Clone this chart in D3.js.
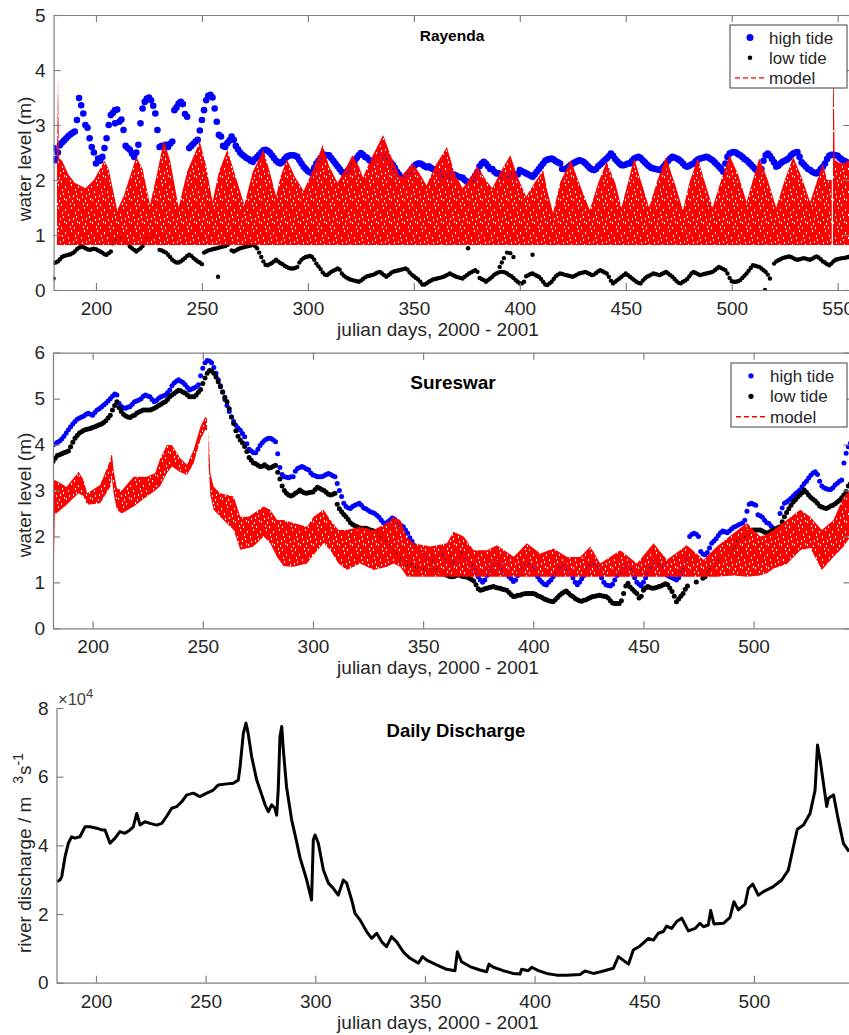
<!DOCTYPE html>
<html><head><meta charset="utf-8">
<script src="https://cdn.jsdelivr.net/npm/d3@7"></script>
<style>
body{margin:0;background:#fff;}
svg{display:block;font-family:"Liberation Sans",Arial,Helvetica,sans-serif;}
</style></head><body>
<svg id="c" width="849" height="1035"></svg>
<script>
// ---------------- DATA ----------------
// Rayenda: daily observations from day 180
const rayStartDay = 180;
const rayHigh = [
2.58,2.38,2.5,2.63,2.68,2.72,2.76,2.8,2.83,2.86,
2.88,3.09,3.49,3.36,3.21,3.0,2.95,2.76,2.6,2.5,
2.3,2.39,2.35,2.42,2.58,2.76,3.0,3.18,3.22,3.27,
3.28,3.06,3.1,2.91,2.62,2.58,2.55,2.48,2.42,2.5,
2.64,3.03,3.3,3.42,3.48,3.5,3.45,3.35,3.21,2.91,
2.6,2.62,2.6,2.64,2.6,2.66,2.7,3.27,3.32,3.39,
3.42,3.38,3.2,3.15,2.58,2.62,2.66,2.7,2.73,2.9,
3.09,3.27,3.45,3.53,3.55,3.5,3.3,3.06,2.82,2.79,
2.62,2.6,2.67,2.72,2.79,2.73,2.62,2.56,2.5,2.46,
2.43,2.4,2.38,2.35,2.33,2.38,2.42,2.46,2.5,2.54,
2.55,2.53,2.5,2.45,2.4,2.35,2.32,2.3,2.33,2.38,
2.42,2.44,2.45,2.45,2.44,2.42,2.36,2.3,2.24,2.2,
2.16,2.14,2.12,2.22,2.3,2.35,2.4,2.44,2.46,2.45,
2.45,2.4,2.35,2.3,2.25,2.2,2.15,2.12,2.14,2.18,
2.2,2.26,2.33,2.4,2.45,2.49,2.46,2.42,2.4,2.36,
2.33,2.32,2.35,2.4,2.43,2.45,2.44,2.4,2.36,2.32,
2.28,2.22,2.15,2.1,2.05,2.02,2.05,2.1,2.15,2.2,
2.25,2.28,2.3,2.3,2.28,2.25,2.23,2.25,2.22,2.2,
2.18,2.16,2.12,2.1,2.08,2.06,2.06,2.08,2.1,2.1,
2.08,2.06,2.05,2.04,2.0,1.97,1.95,1.97,2.02,2.08,
2.15,2.25,2.3,2.33,2.3,2.25,2.2,2.2,2.15,2.12,
2.12,2.1,2.05,2.03,2.0,2.02,2.05,2.08,2.1,2.1,
2.18,2.16,2.14,2.12,2.1,2.08,2.06,2.1,2.15,2.2,
2.25,2.3,2.35,2.37,2.38,2.39,2.37,2.34,2.32,2.3,
2.2,2.2,2.21,2.24,2.27,2.3,2.32,2.34,2.36,2.35,
2.33,2.3,2.26,2.22,2.19,2.18,2.2,2.25,2.28,2.32,
2.36,2.39,2.43,2.48,2.44,2.38,2.34,2.3,2.27,2.27,
2.28,2.3,2.3,2.35,2.39,2.41,2.42,2.4,2.36,2.32,
2.28,2.25,2.22,2.21,2.2,2.19,2.18,2.21,2.25,2.3,
2.35,2.39,2.42,2.41,2.39,2.37,2.34,2.3,2.26,2.24,
2.26,2.28,2.3,2.34,2.37,2.39,2.4,2.41,2.42,2.41,
2.38,2.36,2.32,2.28,2.24,2.2,2.15,2.3,2.42,2.48,
2.5,2.51,2.5,2.47,2.45,2.42,2.38,2.36,2.32,2.28,
2.24,2.2,2.17,2.15,2.2,2.35,2.45,2.48,2.44,2.38,
2.32,2.24,2.26,2.3,2.33,2.35,2.37,2.4,2.45,2.48,
2.5,2.51,2.42,2.32,2.28,2.24,2.2,2.18,2.15,2.13,
2.12,2.15,2.2,2.24,2.3,2.38,2.44,2.46,2.46,2.45,
2.44,2.4,2.37,2.35,2.33,2.3,2.28];
const rayHighExtra = [[180.6,2.36],[209,3.03]];
const rayLow = [
0.49,0.5,0.52,0.56,0.6,0.62,0.63,0.64,0.65,0.67,
0.7,0.74,0.77,0.79,0.78,0.76,0.74,0.73,0.74,0.75,
0.74,0.72,0.7,0.68,0.65,0.64,0.67,0.7,0.85,0.9,
0.93,0.95,0.96,0.95,0.9,0.85,0.79,0.76,0.73,0.7,
0.73,0.76,0.8,0.9,0.95,0.97,1.0,1.02,0.98,0.9,
0.73,0.72,0.7,0.68,0.64,0.6,0.55,0.52,0.5,0.5,
0.52,0.55,0.58,0.62,0.64,0.62,0.58,0.55,0.52,0.5,
0.47,0.68,0.7,0.72,0.73,0.74,0.75,0.76,0.77,0.78,
0.79,0.8,0.82,0.85,0.72,0.7,0.72,0.74,0.76,0.77,
0.78,0.79,0.8,0.81,0.82,0.8,0.76,0.68,0.6,0.52,
0.46,0.45,0.47,0.49,0.52,0.55,0.52,0.49,0.47,0.44,
0.42,0.4,0.39,0.39,0.4,0.42,0.5,0.55,0.58,0.6,
0.61,0.62,0.6,0.55,0.48,0.43,0.38,0.32,0.28,0.27,
0.3,0.33,0.35,0.37,0.39,0.37,0.3,0.26,0.23,0.21,
0.19,0.18,0.17,0.16,0.15,0.17,0.2,0.23,0.25,0.26,
0.27,0.28,0.3,0.32,0.33,0.3,0.27,0.24,0.27,0.3,
0.33,0.34,0.35,0.36,0.37,0.38,0.39,0.37,0.32,0.28,
0.25,0.22,0.19,0.15,0.1,0.1,0.12,0.15,0.17,0.19,
0.2,0.21,0.22,0.23,0.24,0.26,0.28,0.3,0.28,0.26,
0.24,0.23,0.22,0.21,0.24,0.27,0.3,0.32,0.34,0.36,
0.33,0.22,0.2,0.18,0.15,0.18,0.21,0.24,0.28,0.3,
0.32,0.33,0.33,0.32,0.3,0.27,0.25,0.22,0.18,0.15,
0.12,0.12,0.15,0.25,0.27,0.29,0.3,0.28,0.26,0.24,
0.2,0.15,0.1,0.09,0.12,0.15,0.2,0.25,0.28,0.3,
0.29,0.28,0.27,0.26,0.25,0.24,0.26,0.28,0.3,0.31,
0.32,0.33,0.31,0.29,0.27,0.28,0.31,0.34,0.36,0.34,
0.32,0.3,0.24,0.17,0.12,0.15,0.18,0.21,0.24,0.27,
0.3,0.27,0.24,0.21,0.18,0.15,0.13,0.12,0.17,0.21,
0.24,0.26,0.28,0.3,0.29,0.28,0.27,0.29,0.31,0.33,
0.3,0.27,0.24,0.2,0.16,0.13,0.12,0.15,0.17,0.2,
0.25,0.3,0.33,0.31,0.29,0.27,0.28,0.29,0.3,0.31,
0.32,0.33,0.36,0.39,0.42,0.4,0.38,0.36,0.3,0.22,
0.16,0.15,0.15,0.16,0.18,0.22,0.26,0.3,0.35,0.4,
0.45,0.44,0.43,0.42,0.39,0.36,0.33,0.28,0.21,null,
0.48,0.52,0.54,0.56,0.58,0.59,0.6,0.61,0.6,0.58,
0.56,0.55,0.56,0.57,0.58,0.57,0.56,0.55,0.57,0.59,
0.61,0.59,0.56,0.52,0.5,0.47,0.45,0.48,0.52,0.55,
0.56,0.57,0.58,0.58,0.59,0.6,0.61];
const rayLowExtra = [[180,0.21],[257.6,0.24],[375.6,0.76],[390.5,0.42],[391.5,0.5],[392.5,0.58],[394,0.68],[395.5,0.67],[397,0.6],[406,0.64],[515.7,0.0]];
// Rayenda model: upper envelope at read-off days, bottom is flat
const rayModelDays = [181.6,182.1,182.5,184,187,190,195,199,204,206,210,213,219,222,225.5,229,232,235,239,243,249,252,255,258,262,266,270,274,279,282,285,287,290,294,298,302,307,310,314,317,321,324,326,330,335.5,339,343.5,346,349.6,353,356,360,365.6,369,373,376,380,384,387,391,395.5,399,403,407,411,413,415.7,419,424,428,433,437,441,445,448,451,454,457,461,465,469,473,477,480,484,487,491,495,499,503,507,510,513,517,521,525,529,533,537,540,543,545,547.2,547.5,547.8,548.1,548.6,552,556];
const rayModelTop = [2.38,3.85,2.4,2.35,2.1,1.95,1.85,2.0,2.35,2.2,1.45,1.7,2.42,2.2,1.55,2.15,2.72,2.35,1.5,2.15,2.7,2.25,1.6,2.15,2.55,2.05,1.55,2.15,2.55,2.15,1.7,2.05,2.38,2.05,1.8,2.15,2.64,2.25,1.95,2.15,2.45,2.25,2.05,2.4,2.82,2.45,2.05,2.15,2.3,2.1,1.9,2.25,2.6,2.15,1.85,2.0,2.25,2.0,1.85,2.15,2.45,2.05,1.7,1.95,2.18,1.8,1.4,1.95,2.36,1.95,1.45,1.95,2.33,1.95,1.5,1.95,2.4,2.0,1.5,2.0,2.42,1.95,1.45,1.95,2.4,2.0,1.5,2.0,2.45,2.1,1.6,2.0,2.4,2.0,1.5,2.0,2.42,2.05,1.6,1.95,2.3,2.0,2.0,null,3.85,3.85,2.36,2.3,2.36];
const rayModelFloor = 0.82;

// Sureswar: daily observations from day 182
const surStartDay = 182;
const surHigh = [
3.99,4.02,4.05,4.08,4.12,4.18,4.25,4.32,4.39,4.45,
4.5,4.55,4.58,4.6,4.62,4.66,4.68,4.66,4.64,4.7,
4.75,4.78,4.82,4.86,4.9,4.95,5.0,5.05,5.1,5.08,
4.9,4.83,4.8,4.79,4.81,4.83,4.88,4.93,4.95,4.97,
5.0,5.05,5.08,5.06,5.04,4.98,4.93,4.96,5.01,5.04,
5.06,5.08,5.13,5.19,5.28,5.34,5.38,5.41,5.38,5.35,
5.3,5.24,5.19,5.21,5.23,5.26,5.3,5.5,5.66,5.78,
5.83,5.82,5.78,5.68,5.55,5.41,5.28,5.15,4.98,4.85,
4.72,4.6,4.5,4.42,4.36,4.31,4.24,4.17,4.02,3.9,
3.86,3.82,3.82,3.9,3.98,4.04,4.09,4.12,4.14,4.13,
4.1,4.06,3.8,3.5,3.35,3.3,3.29,3.28,3.3,3.3,
3.42,3.48,3.5,3.52,3.5,3.47,3.45,3.38,3.34,3.32,
3.3,3.3,3.3,3.32,3.35,3.37,3.35,3.32,3.3,3.15,
3.0,2.87,2.72,2.65,2.62,2.61,2.65,2.68,2.7,2.72,
2.68,2.62,2.6,2.57,2.54,2.52,2.5,2.46,2.42,2.35,
2.3,2.28,2.32,2.36,2.4,2.38,2.31,2.28,2.24,2.21,
2.14,2.07,1.97,1.89,1.8,1.72,1.65,1.6,1.58,1.55,
1.52,1.5,1.48,1.5,1.55,1.6,1.62,1.6,1.55,1.5,
1.45,1.4,1.42,1.48,1.55,1.6,1.62,1.58,1.5,1.42,
1.35,1.3,1.22,1.12,1.05,1.0,1.05,1.15,1.25,1.35,
1.4,1.45,1.42,1.38,1.3,1.25,1.18,1.12,1.08,1.02,
1.05,1.15,1.25,1.32,1.38,1.4,1.38,1.32,1.28,1.2,
1.12,1.05,1.0,0.96,0.94,1.0,1.05,1.12,1.2,1.28,
1.34,1.38,1.4,1.35,1.28,1.2,1.1,1.0,0.95,1.0,
1.08,1.15,1.25,1.32,1.36,1.38,1.35,1.3,1.2,1.1,
1.0,0.95,0.93,0.92,0.96,1.05,1.15,1.22,1.25,1.28,
1.3,1.32,1.34,1.25,1.1,1.0,0.96,0.92,1.0,1.1,
1.2,1.3,1.42,1.45,1.42,1.38,1.32,1.25,1.2,1.15,
1.12,1.1,1.08,1.05,1.1,1.18,1.26,1.32,1.5,2.0,
2.05,2.07,2.05,2.0,1.67,1.62,1.6,1.65,1.75,1.85,
1.9,1.95,2.02,2.08,2.12,2.1,2.08,2.12,2.16,2.2,
2.22,2.25,2.27,2.29,2.35,2.55,2.7,2.72,2.7,2.68,
2.47,2.45,2.42,2.35,2.3,2.28,2.22,2.18,2.12,2.1,
2.5,2.62,2.72,2.75,2.79,2.83,2.88,2.93,2.97,3.01,
3.08,3.15,3.2,3.27,3.33,3.38,3.41,3.35,3.2,3.1,
3.06,3.04,3.02,3.02,3.06,3.12,3.16,3.2,3.23,3.6,
3.81,3.95,4.03];
const surLow = [
3.63,3.7,3.76,3.78,3.8,3.82,3.84,3.86,3.95,4.05,
4.14,4.2,4.25,4.28,4.31,4.33,4.34,4.35,4.37,4.39,
4.41,4.43,4.45,4.48,4.52,4.58,4.64,4.75,4.85,4.93,
4.8,4.72,4.66,4.62,4.6,4.59,4.62,4.64,4.68,4.71,
4.73,4.75,4.75,4.75,4.75,4.77,4.79,4.82,4.85,4.88,
4.91,4.93,4.98,5.04,5.08,5.11,5.15,5.18,5.17,5.14,
5.12,5.08,5.04,5.04,5.04,5.08,5.14,5.2,5.33,5.45,
5.55,5.61,5.6,5.55,5.47,5.37,5.26,5.14,5.03,4.93,
4.78,4.6,4.46,4.3,4.18,4.1,4.04,3.96,3.85,3.72,
3.66,3.6,3.58,3.55,3.52,3.53,3.56,3.52,3.49,3.5,
3.53,3.55,3.4,3.25,3.1,3.0,2.94,2.9,2.88,2.9,
2.94,2.97,3.01,2.98,2.95,2.94,2.95,2.96,2.97,3.02,
3.07,3.05,3.02,3.0,2.96,2.92,2.9,2.92,2.94,2.7,
2.6,2.54,2.48,2.43,2.37,2.3,2.26,2.23,2.21,2.19,
2.18,2.18,2.18,2.16,2.14,2.13,2.11,2.1,2.03,1.97,
1.92,1.86,1.81,1.76,1.72,1.67,1.62,1.57,1.52,1.48,
1.44,1.41,1.4,1.38,1.36,1.34,1.32,1.3,1.29,1.28,
1.27,1.27,1.27,1.27,1.27,1.27,1.25,1.2,1.17,1.15,
1.13,1.12,1.13,1.15,1.16,1.15,1.13,1.12,1.11,1.09,
1.06,1.03,0.95,0.86,0.83,0.84,0.86,0.87,0.89,0.9,
0.91,0.89,0.88,0.87,0.85,0.84,0.83,0.78,0.73,0.69,
0.7,0.72,0.72,0.74,0.75,0.76,0.76,0.76,0.76,0.74,
0.71,0.69,0.67,0.64,0.62,0.6,0.59,0.58,0.62,0.67,
0.72,0.76,0.79,0.81,0.77,0.72,0.69,0.65,0.62,0.6,
0.59,0.61,0.62,0.65,0.67,0.69,0.7,0.71,0.72,0.71,
0.7,0.69,0.66,0.6,0.55,0.54,0.54,0.54,0.6,0.76,
0.92,0.98,0.9,0.85,0.8,0.76,0.66,0.7,0.83,0.88,
0.91,0.89,0.87,0.88,0.89,0.91,0.92,0.95,0.97,0.95,
0.88,0.8,0.7,0.58,0.64,0.7,0.76,0.85,0.92,null,
null,null,1.01,null,null,1.09,1.12,1.18,1.26,1.32,
1.37,1.42,1.47,1.5,1.55,1.6,1.65,1.7,1.75,1.8,
1.85,1.89,1.92,1.97,2.02,2.07,2.1,2.12,2.14,2.14,
2.14,2.14,2.12,2.09,2.07,2.09,2.12,2.14,2.16,2.19,
2.21,2.32,2.43,2.52,2.6,2.68,2.75,2.8,2.86,2.9,
2.95,3.01,2.96,2.9,2.85,2.81,2.77,2.72,2.66,2.64,
2.62,2.61,2.63,2.66,2.68,2.71,2.75,2.79,2.84,2.9,
2.98,3.1,3.15];
const surModelDays = [182.3,182.8,188.2,193.6,195.9,197.5,203.4,208,208.7,209.5,211,213.2,218.6,224.6,228.4,230.7,233.7,236,239.8,242.8,245.8,248.9,251.1,251.9,252.2,252.6,253.4,254.9,257.9,264,267,270.8,273,277.6,280.6,283.7,286.7,291.2,297.3,300.3,304.8,307.9,311.6,315.4,321.5,327.5,333.6,336.6,339.6,342.7,345.7,353.2,360.8,363.8,368.4,372.9,379,383.5,391.1,397.1,403.2,409.2,415.3,421.3,425.9,430.4,439.5,447.1,454.6,460.7,469.7,477.3,483.4,490.9,497,503,506.1,509.1,515.1,521.2,525.7,531,536.3,540.9,544];
const surModelTop = [3.2,3.23,3.08,3.41,3.23,2.94,3.12,3.66,3.84,3.44,3.05,3.0,3.3,3.3,3.38,3.7,3.99,3.99,3.7,3.56,3.88,4.39,4.6,4.57,null,4.3,3.38,3.08,2.94,2.87,2.43,2.43,2.5,2.65,2.58,2.36,2.36,2.29,2.21,2.43,2.58,2.36,2.14,2.14,2.21,2.14,2.29,2.43,2.36,2.0,1.85,1.78,1.85,2.1,2.0,1.7,1.7,1.81,1.56,1.85,1.63,1.74,1.55,1.55,1.78,1.41,1.7,1.41,1.85,1.49,1.81,1.49,1.78,2.07,2.29,2.0,2.05,2.14,2.36,2.58,2.43,2.14,2.36,2.87,3.01];
const surModelBottom = [1.09,2.47,2.69,2.94,2.87,2.69,2.72,3.08,3.3,2.94,2.58,2.5,2.65,2.87,3.0,3.1,3.38,3.52,3.4,3.34,3.59,4.1,4.32,4.3,null,3.6,2.9,2.58,2.43,2.14,1.71,1.75,1.78,2.0,1.85,1.55,1.35,1.34,1.41,1.6,1.85,1.7,1.41,1.27,1.41,1.27,1.34,1.41,1.34,1.12,1.12,1.12,1.12,1.12,1.12,1.12,1.12,1.12,1.12,1.12,1.12,1.12,1.12,1.12,1.12,1.12,1.12,1.12,1.12,1.12,1.12,1.12,1.12,1.15,1.12,1.15,1.2,1.3,1.4,1.7,1.75,1.27,1.56,1.78,2.0];

// Daily discharge, in units of 10^4 m^3/s
const disDays = [182.1,183.6,184.4,185.9,187.4,188.9,190.4,192.7,195,197.3,200.3,202.6,204.1,206.4,208.7,210.9,213.2,215.5,217,218.6,220.1,222.3,224.6,227.7,230,232.2,234.5,236.8,239.1,241.4,244.4,247.4,250.5,253.5,255.8,259.6,262.6,264.9,265.7,267.2,268.4,269.4,271,273.3,275.6,277.1,278.6,280.1,281.6,282.4,283.1,283.9,284.7,285.4,286.9,289.2,291.5,293,296.1,298.3,299.1,299.9,301.4,303.7,306,308.2,310.5,312.8,314.3,316.6,318.1,320.4,323.4,325.7,328,330.3,332.5,334.8,337.1,340.1,343.2,347,348.9,350.8,355.3,359.9,363.7,364.8,366.7,370.5,375.1,378.1,379.2,381.2,385.7,390.3,393.3,394.1,397.1,398.7,401.7,405.5,410.1,414.6,420.7,423,426.8,431.4,435.9,438.2,442.8,445,448.1,451.9,454.2,456.4,458.7,460.2,462.5,464.8,467.1,470.1,473.2,475.4,477,479.2,480.3,481.8,486.1,489.1,490.9,492.9,496,497.5,499.5,502,504.3,508.9,512.7,515.7,518,519.8,522.6,525.6,527.9,529,530.2,533.2,534,536.3,538.5,540.8,543.4];
const dischargeE4 = [2.94,2.99,3.09,3.67,4.06,4.25,4.21,4.25,4.54,4.54,4.5,4.45,4.45,4.06,4.21,4.4,4.35,4.45,4.54,4.93,4.59,4.69,4.64,4.59,4.64,4.84,5.08,5.13,5.27,5.47,5.52,5.42,5.52,5.61,5.76,5.79,5.81,5.9,6.29,7.26,7.56,7.26,6.58,5.9,5.47,5.18,4.98,5.18,5.08,4.88,5.61,7.17,7.46,6.8,5.7,4.75,4.1,3.65,2.99,2.41,4.16,4.3,4.06,3.28,2.9,2.75,2.55,2.99,2.9,2.41,2.02,1.83,1.49,1.29,1.44,1.19,1.05,1.34,1.19,0.9,0.71,0.57,0.76,0.66,0.52,0.39,0.35,0.9,0.61,0.47,0.37,0.32,0.54,0.45,0.35,0.27,0.25,0.39,0.35,0.45,0.35,0.27,0.22,0.22,0.24,0.34,0.27,0.34,0.42,0.76,0.54,0.95,1.07,1.29,1.24,1.44,1.49,1.65,1.58,1.78,1.88,1.51,1.58,1.73,1.63,1.68,2.1,1.71,1.73,1.9,2.36,2.12,2.29,2.75,2.87,2.55,2.65,2.8,2.99,3.28,3.96,4.47,4.59,4.93,5.61,6.92,6.49,5.13,5.37,5.47,4.74,4.06,3.82];

const xTicks1 = [200,250,300,350,400,450,500,550];
const yTicks1 = [0,1,2,3,4,5];
const xTicks2 = [200,250,300,350,400,450,500];
const yTicks2 = [0,1,2,3,4,5,6];
const xTicks3 = [200,250,300,350,400,450,500];
const yTicks3 = [0,2,4,6,8];
const titles = ["Rayenda","Sureswar","Daily Discharge"];
const xLabel = "julian days, 2000 - 2001";
const legendLabels = ["high tide","low tide","model"];

// ---------------- DRAWING ----------------
const AX = "#808080", TX = "#262626", BLUE = "#0000ff", RED = "#ff0000";
const FS = 19;
const svg = d3.select("#c");
svg.append("rect").attr("width",849).attr("height",1035).attr("fill","#fff");
const defs = svg.append("defs");
// texture of the dashed model trace: red with small scattered gaps
const pat = defs.append("pattern").attr("id","redtex").attr("patternUnits","userSpaceOnUse")
  .attr("width",13).attr("height",23);
pat.append("path").attr("fill",RED).attr("fill-rule","evenodd")
  .attr("d","M0,0H13V23H0Z M0,2h1v2h-1z M6,0h1v2h-1z M10,5h1v2h-1z M3,7h1v2h-1z M8,11h1v2h-1z M12,14h1v2h-1z M1,15h1v2h-1z M5,19h1v2h-1z M9,20h1v2h-1z M11,9h1v2h-1z M4,12h1v2h-1z M7,16h1v2h-1z");

function makePanel(p){
  const x = d3.scaleLinear().domain(p.xDomain).range([p.left,p.right]);
  const y = d3.scaleLinear().domain(p.yDomain).range([p.bottom,p.top]);
  const g = svg.append("g");
  defs.append("clipPath").attr("id","clip"+p.id).append("rect")
    .attr("x",p.left).attr("y",p.top).attr("width",p.right-p.left).attr("height",p.bottom-p.top);
  const plot = g.append("g").attr("clip-path",`url(#clip${p.id})`);
  return {x,y,g,plot,p};
}
function dots(P, pts, r, color){
  P.plot.append("g").selectAll("circle").data(pts.filter(d=>d[1]!=null)).join("circle")
    .attr("cx",d=>P.x(d[0])).attr("cy",d=>P.y(d[1])).attr("r",r).attr("fill",color);
}
function daily(start, vals){ return vals.map((v,i)=>[start+i, v]); }
function drawAxes(P){
  const {x,y,g,p} = P;
  const ax = g.append("g");
  ax.append("g").attr("transform",`translate(0,${p.bottom})`)
    .call(d3.axisBottom(x).tickValues(p.xTicks).tickSizeInner(-7).tickSizeOuter(0).tickPadding(11.5).tickFormat(d3.format("d")));
  ax.append("g").attr("transform",`translate(${p.left},0)`)
    .call(d3.axisLeft(y).tickValues(p.yTicks).tickSizeInner(-7).tickSizeOuter(0).tickPadding(8).tickFormat(d3.format("d")));
  if(p.box){
    ax.append("g").attr("transform",`translate(0,${p.top})`)
      .call(d3.axisTop(x).tickValues(p.xTicks).tickSizeInner(-7).tickSizeOuter(0).tickFormat(""));
    ax.append("g").attr("transform",`translate(${p.right},0)`)
      .call(d3.axisRight(y).tickValues(p.yTicks).tickSizeInner(-7).tickSizeOuter(0).tickFormat(""));
  }
  ax.selectAll("g").attr("font-size",null).attr("font-family",null);
  ax.selectAll(".domain").attr("stroke",AX).attr("stroke-width",1.2);
  ax.selectAll(".tick line").attr("stroke",AX).attr("stroke-width",1.2);
  ax.selectAll(".tick text").attr("fill",TX).attr("font-size",FS);
  g.append("text").attr("x",438).attr("y",p.bottom+46).attr("text-anchor","middle")
    .attr("font-size",FS).attr("fill",TX).text(xLabel);
  g.append("text").attr("x",p.titleX).attr("y",p.titleY).attr("text-anchor","middle")
    .attr("font-size",p.titleSize).attr("font-weight","bold").attr("fill","#000").text(p.title);
}
function legend(P, L){
  const g = P.g.append("g");
  g.append("rect").attr("x",L.x).attr("y",L.y).attr("width",L.w).attr("height",L.h)
    .attr("fill","#fff").attr("stroke","#404040").attr("stroke-width",1);
  const rows = [L.y+L.h*0.2, L.y+L.h*0.52, L.y+L.h*0.84];
  g.append("circle").attr("cx",L.x+20).attr("cy",rows[0]).attr("r",L.rHigh).attr("fill",BLUE);
  g.append("circle").attr("cx",L.x+20).attr("cy",rows[1]).attr("r",L.rLow).attr("fill","#000");
  g.append("line").attr("x1",L.x+5).attr("x2",L.x+35).attr("y1",rows[2]).attr("y2",rows[2])
    .attr("stroke",RED).attr("stroke-width",1.3).attr("stroke-dasharray","5,3");
  legendLabels.forEach((t,i)=>{
    g.append("text").attr("x",L.x+39).attr("y",rows[i]).attr("dy","0.35em")
      .attr("font-size",17).attr("fill",TX).text(t);
  });
}

// Panel 1: Rayenda
const P1 = makePanel({id:1,left:53.6,right:850.4,top:15,bottom:290,xDomain:[180,556],yDomain:[0,5],
  xTicks:xTicks1,yTicks:yTicks1,box:true,title:titles[0],titleX:452,titleY:41,titleSize:15.5});
dots(P1, daily(rayStartDay, rayHigh).concat(rayHighExtra), 3.3, BLUE);
dots(P1, daily(rayStartDay, rayLow).concat(rayLowExtra), 2.2, "#000");
const rayModel = rayModelDays.map((d,i)=>({d, t:rayModelTop[i], b:rayModelFloor}));
P1.plot.append("path").datum(rayModel)
  .attr("d", d3.area().defined(d=>d.t!=null).x(d=>P1.x(d.d)).y0(d=>P1.y(d.b)).y1(d=>P1.y(d.t)))
  .attr("fill","url(#redtex)");
drawAxes(P1);
legend(P1,{x:730,y:25,w:117,h:63,rHigh:3.5,rLow:2.3});
P1.g.append("text").attr("transform","translate(31,159) rotate(-90)").attr("text-anchor","middle")
  .attr("font-size",FS).attr("fill",TX).text("water level (m)");

// Panel 2: Sureswar
const P2 = makePanel({id:2,left:53,right:850.5,top:352.7,bottom:628.3,xDomain:[182,544],yDomain:[0,6],
  xTicks:xTicks2,yTicks:yTicks2,box:true,title:titles[1],titleX:453,titleY:389,titleSize:19});
dots(P2, daily(surStartDay, surHigh), 2.5, BLUE);
dots(P2, daily(surStartDay, surLow), 2.5, "#000");
const surModel = surModelDays.map((d,i)=>({d, t:surModelTop[i], b:surModelBottom[i]}));
P2.plot.append("path").datum(surModel)
  .attr("d", d3.area().defined(d=>d.t!=null).x(d=>P2.x(d.d)).y0(d=>P2.y(d.b)).y1(d=>P2.y(d.t)))
  .attr("fill","url(#redtex)");
drawAxes(P2);
legend(P2,{x:731,y:363,w:116,h:64,rHigh:2.6,rLow:2.6});
P2.g.append("text").attr("transform","translate(31,495) rotate(-90)").attr("text-anchor","middle")
  .attr("font-size",FS).attr("fill",TX).text("water level (m)");

// Panel 3: Daily discharge
const P3 = makePanel({id:3,left:56.5,right:850.4,top:708,bottom:982.7,xDomain:[182,544],yDomain:[0,8],
  xTicks:xTicks3,yTicks:yTicks3,box:false,title:titles[2],titleX:456,titleY:737,titleSize:18.5});
P3.plot.append("path").datum(disDays.map((d,i)=>[d, dischargeE4[i]]))
  .attr("d", d3.line().x(d=>P3.x(d[0])).y(d=>P3.y(d[1])))
  .attr("fill","none").attr("stroke","#000").attr("stroke-width",3).attr("stroke-linejoin","round");
drawAxes(P3);
const ex = P3.g.append("text").attr("x",58).attr("y",705).attr("font-size",16.5).attr("fill","#404040");
ex.append("tspan").text("\u00d710");
ex.append("tspan").attr("dy",-7).attr("font-size",13).text("4");
const yl = P3.g.append("text").attr("transform","translate(31,953) rotate(-90)").attr("font-size",FS).attr("fill",TX);
yl.append("tspan").text("river discharge / m");
yl.append("tspan").attr("dx",13).attr("dy",-8).attr("font-size",14).text("3");
yl.append("tspan").attr("dx",1).attr("dy",8).attr("font-size",FS).text("s");
yl.append("tspan").attr("dx",0).attr("dy",-8).attr("font-size",14).text("-1");
</script>
</body></html>
